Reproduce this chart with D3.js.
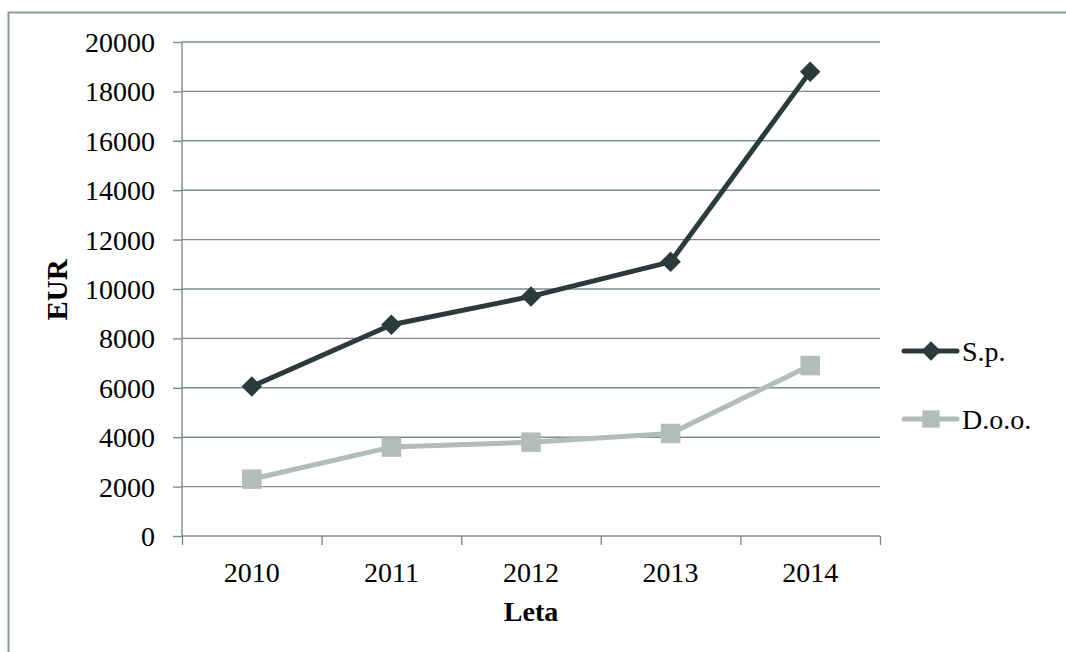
<!DOCTYPE html>
<html><head><meta charset="utf-8">
<script src="https://cdn.jsdelivr.net/npm/d3@7"></script>
<style>
html,body{margin:0;padding:0;background:#fff;}
svg{display:block;font-family:"Liberation Serif","Times New Roman",serif;}
</style></head>
<body>
<svg id="chart" width="1066" height="652"></svg>
<script>
const years = ["2010","2011","2012","2013","2014"];
const spValues = [6050, 8550, 9700, 11100, 18800];
const dooValues = [2300, 3600, 3800, 4150, 6900];
const yTicks = [0,2000,4000,6000,8000,10000,12000,14000,16000,18000,20000];
const seriesNames = ["S.p.","D.o.o."];

(function(){
const gridColor = "#7d8c8b";
const spColor = "#2b3b3c";
const dooColor = "#b2bdba";

const svg = d3.select("#chart");
const pLeft = 182, pRight = 880, pTop = 42, pBottom = 536;

svg.append("rect").attr("x",8.5).attr("y",12.5).attr("width",1100).attr("height",700)
  .attr("fill","none").attr("stroke","#8c9c9b").attr("stroke-width",2);

const x = d3.scaleBand().domain(years).range([pLeft,pRight]).padding(0);
const xb = d3.scaleLinear().domain([0,years.length]).range([pLeft,pRight]);
const y = d3.scaleLinear().domain([0,20000]).range([pBottom,pTop]);

// gridlines
svg.append("g").selectAll("line").data(yTicks.filter(d=>d>0)).join("line")
  .attr("x1",pLeft).attr("x2",pRight)
  .attr("y1",d=>y(d)).attr("y2",d=>y(d))
  .attr("stroke",gridColor).attr("stroke-width",1.4);

// y axis
const ya = svg.append("g").attr("transform",`translate(${pLeft},0)`)
  .call(d3.axisLeft(y).tickValues(yTicks).tickSize(9).tickPadding(18).tickFormat(d3.format("d")));
ya.selectAll("path,line").attr("stroke",gridColor).attr("stroke-width",1.4);
ya.select(".domain").attr("d",`M0,${pTop}V${pBottom}`);
ya.selectAll("text").attr("font-size",28).attr("font-family","Liberation Serif").attr("fill","#000").attr("dy","0.34em");

// x axis boundary ticks
const xa = svg.append("g").attr("transform",`translate(0,${pBottom})`)
  .call(d3.axisBottom(xb).tickValues(d3.range(years.length+1)).tickSize(9).tickFormat(""));
xa.selectAll("path,line").attr("stroke",gridColor).attr("stroke-width",1.4);
xa.select(".domain").attr("d",`M${pLeft},0H${pRight}`);

// x labels
const xl = svg.append("g").attr("transform",`translate(0,${pBottom})`)
  .call(d3.axisBottom(x).tickSize(0).tickPadding(26));
xl.select(".domain").remove();
xl.selectAll("text").attr("font-size",28).attr("font-family","Liberation Serif").attr("fill","#000");

// axis titles
svg.append("text").attr("transform","translate(57,290) rotate(-90)")
  .attr("text-anchor","middle").attr("dominant-baseline","central")
  .attr("font-size",29).attr("font-weight","bold").text("EUR");
svg.append("text").attr("x",531).attr("y",621).attr("text-anchor","middle")
  .attr("font-size",28).attr("font-weight","bold").text("Leta");

const cx = d => x(d)+x.bandwidth()/2;
const line = d3.line().x(d=>cx(d.year)).y(d=>y(d.v));
const spData = years.map((yr,i)=>({year:yr,v:spValues[i]}));
const dooData = years.map((yr,i)=>({year:yr,v:dooValues[i]}));

const diamond = d3.symbol().type(d3.symbolSquare).size(210);
const square = d3.symbol().type(d3.symbolSquare).size(380);

svg.append("path").datum(dooData).attr("d",line).attr("fill","none")
  .attr("stroke",dooColor).attr("stroke-width",5).attr("stroke-linejoin","round");
svg.append("g").selectAll("path").data(dooData).join("path")
  .attr("d",square).attr("transform",d=>`translate(${cx(d.year)},${y(d.v)})`).attr("fill",dooColor);

svg.append("path").datum(spData).attr("d",line).attr("fill","none")
  .attr("stroke",spColor).attr("stroke-width",5).attr("stroke-linejoin","round");
svg.append("g").selectAll("path").data(spData).join("path")
  .attr("d",diamond).attr("transform",d=>`translate(${cx(d.year)},${y(d.v)}) rotate(45)`).attr("fill",spColor);

// legend
const legend = svg.append("g");
const legY = [351, 419];
const colors = [spColor, dooColor];
seriesNames.forEach((name,i)=>{
  const g = legend.append("g").attr("transform",`translate(0,${legY[i]})`);
  g.append("line").attr("x1",904).attr("x2",957).attr("y1",0).attr("y2",0)
    .attr("stroke",colors[i]).attr("stroke-width",5).attr("stroke-linecap","round");
  if(i===0){
    g.append("path").attr("d",d3.symbol().type(d3.symbolSquare).size(190)).attr("transform","translate(931,0) rotate(45)").attr("fill",colors[i]);
  } else {
    g.append("path").attr("d",d3.symbol().type(d3.symbolSquare).size(300)).attr("transform","translate(931,0)").attr("fill",colors[i]);
  }
  g.append("text").attr("x",962).attr("y",10).attr("font-size",28).attr("fill","#000").text(name);
});
})();
</script>
</body></html>
